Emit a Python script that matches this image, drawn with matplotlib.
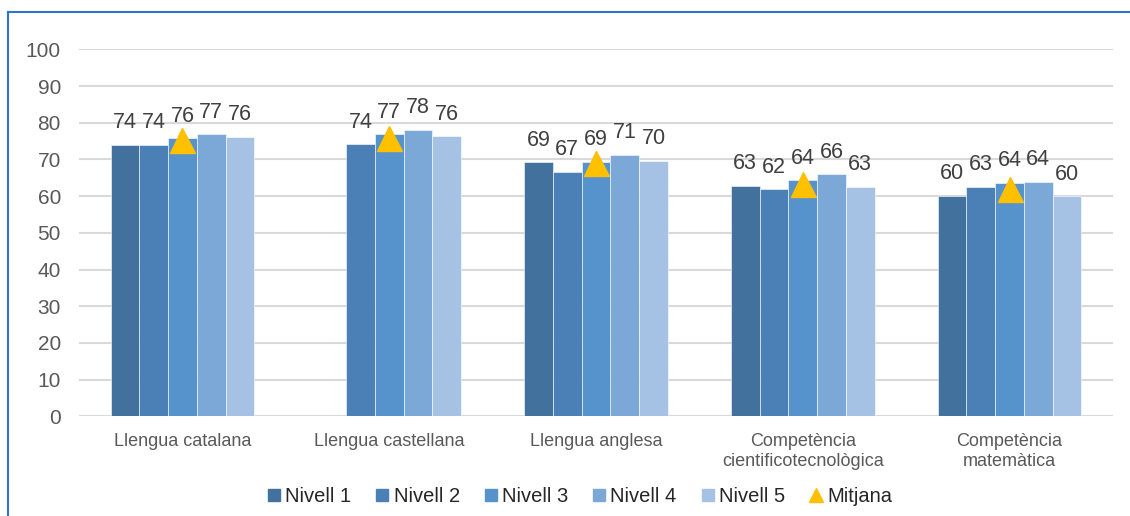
import numpy as np
import matplotlib
matplotlib.use("Agg")
import matplotlib.pyplot as plt
from matplotlib.lines import Line2D

plt.rcParams['font.family'] = ['Liberation Sans', 'DejaVu Sans']

categories = ["Llengua catalana", "Llengua castellana", "Llengua anglesa",
              "Competència\ncientificotecnològica", "Competència\nmatemàtica"]
series_names = ["Nivell 1", "Nivell 2", "Nivell 3", "Nivell 4", "Nivell 5"]
nivell1 = [73.9, np.nan, 69.2, 62.8, 60.1]
nivell2 = [73.9, 74.1, 66.7, 61.8, 62.6]
nivell3 = [75.7, 76.8, 69.3, 64.3, 63.6]
nivell4 = [76.8, 78.0, 71.3, 65.9, 63.8]
nivell5 = [76.1, 76.3, 69.7, 62.6, 59.9]
mitjana = [75.2, 75.7, 69.1, 63.4, 61.9]
yticks = [0, 10, 20, 30, 40, 50, 60, 70, 80, 90, 100]

series = [nivell1, nivell2, nivell3, nivell4, nivell5]
colors = ["#41719C", "#4A80B6", "#5693CC", "#7CA8D8", "#A5C2E5"]
tri_color = "#FFC000"

W, H = 1130, 516
fig = plt.figure(figsize=(W / 100, H / 100), dpi=100)

# outer frame (top and left blue lines)
fig.add_artist(Line2D([8 / W, 1.0], [1 - 12 / H, 1 - 12 / H], color="#2E75C8", lw=1.5))
fig.add_artist(Line2D([8 / W, 8 / W], [0, 1 - 12 / H], color="#2E75C8", lw=1.5))

ax = fig.add_axes([79 / W, (H - 416.3) / H, 1034 / W, 367 / H])

x = np.arange(len(categories))
bw = 0.139
for i, (vals, c) in enumerate(zip(series, colors)):
    pos = x + (i - 2) * bw
    ax.bar(pos, vals, width=bw, color=c, edgecolor="#FFFFFF", linewidth=0.4, zorder=3)
    for px, v in zip(pos, vals):
        if not np.isnan(v):
            ax.annotate(f"{v:.0f}", (px, v), xytext=(0, 12), textcoords="offset points",
                        ha="center", va="baseline", fontsize=15.5, color="#404040", zorder=5)

ax.plot(x, mitjana, linestyle="none", marker="^", markersize=18, color=tri_color, zorder=4)

ax.set_xlim(-0.5, len(categories) - 0.5)
ax.set_ylim(0, 100)
ax.set_yticks(yticks)
ax.set_xticks(x)
ax.set_xticklabels(categories, fontsize=13, color="#595959", linespacing=1.25)
ax.tick_params(axis="y", labelsize=15, colors="#595959", length=0, pad=13)
ax.tick_params(axis="x", length=0, pad=12)
ax.yaxis.grid(True, color="#D9D9D9", linewidth=1.5, zorder=0)
ax.set_axisbelow(True)
for s in ax.spines.values():
    s.set_visible(False)

handles = [Line2D([], [], linestyle="none", marker="s", markersize=8, color=c) for c in colors]
handles.append(Line2D([], [], linestyle="none", marker="^", markersize=10, color=tri_color))
fig.legend(handles, series_names + ["Mitjana"], loc="center", bbox_to_anchor=(0.513, 0.037),
           ncol=6, frameon=False, fontsize=14.5, handlelength=0.7, handletextpad=0.2,
           columnspacing=1.2, labelcolor="#262626")

fig.savefig("out.png", dpi=100)
